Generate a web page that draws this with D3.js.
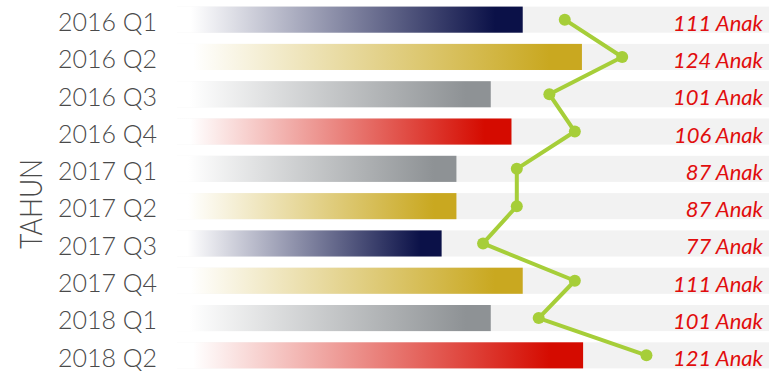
<!DOCTYPE html>
<html>
<head>
<meta charset="utf-8">
<script src="https://cdn.jsdelivr.net/npm/d3@7"></script>
<style>
  body { margin: 0; background: #fff; }
  .axis text { font-family: Lato, sans-serif; font-weight: 300; font-size: 25px; fill: #4a4a4a; }
  .count-label { font-family: Lato, sans-serif; font-style: italic; font-size: 22px; fill: #e10d0d; }
</style>
</head>
<body>
<div id="chart"></div>
<script>
const quarters = ["2016 Q1", "2016 Q2", "2016 Q3", "2016 Q4", "2017 Q1",
                  "2017 Q2", "2017 Q3", "2017 Q4", "2018 Q1", "2018 Q2"];
// bar lengths and line positions (0-100 scale)
const barValues  = [58.4, 68.4, 53.0, 56.5, 47.2, 47.2, 44.7, 58.4, 53.0, 68.6];
const lineValues = [65.5, 75.2, 62.9, 67.2, 57.4, 57.4, 51.7, 67.2, 61.1, 79.3];
const counts     = [111, 124, 101, 106, 87, 87, 77, 111, 101, 121];
const barTones   = ["navy", "gold", "grey", "red", "grey", "gold", "navy", "gold", "grey", "red"];

const toneColors = { navy: "#0b1148", gold: "#c9a820", grey: "#8e9295", red: "#d50b00" };

const width = 769, height = 378;
const margin = { left: 177, right: 0 };

const data = quarters.map((q, i) => ({
  quarter: q, bar: barValues[i], line: lineValues[i], count: counts[i], tone: barTones[i]
}));

const svg = d3.select("#chart").append("svg")
  .attr("width", width)
  .attr("height", height);

const defs = svg.append("defs");
Object.entries(toneColors).forEach(([name, col]) => {
  const g = defs.append("linearGradient")
    .attr("id", "grad-" + name)
    .attr("x1", "0%").attr("x2", "100%")
    .attr("y1", "0%").attr("y2", "0%");
  g.append("stop").attr("offset", "0%").attr("stop-color", "#ffffff");
  g.append("stop").attr("offset", "4%").attr("stop-color", "#ffffff");
  g.append("stop").attr("offset", "92%").attr("stop-color", col);
  g.append("stop").attr("offset", "100%").attr("stop-color", col);
});

const x = d3.scaleLinear().domain([0, 100]).range([margin.left, width - margin.right]);
const y = d3.scaleBand().domain(quarters).range([1, 374]).paddingInner(0.3).paddingOuter(0.15);

// background tracks
svg.selectAll("rect.track")
  .data(data)
  .enter().append("rect")
  .attr("class", "track")
  .attr("x", x(0))
  .attr("y", d => y(d.quarter))
  .attr("width", x(100) - x(0))
  .attr("height", y.bandwidth())
  .attr("fill", "#f2f2f2");

// bars
svg.selectAll("rect.bar")
  .data(data)
  .enter().append("rect")
  .attr("class", "bar")
  .attr("x", x(0))
  .attr("y", d => y(d.quarter))
  .attr("width", d => x(d.bar) - x(0))
  .attr("height", y.bandwidth())
  .attr("fill", d => `url(#grad-${d.tone})`);

// category axis
const axis = svg.append("g")
  .attr("class", "axis")
  .attr("transform", `translate(${x(0)},0)`)
  .call(d3.axisLeft(y).tickSize(0).tickPadding(20));
axis.select(".domain").remove();
axis.selectAll(".tick text").attr("dy", "0.45em");

svg.append("text")
  .attr("transform", `translate(30,${y("2017 Q1") + y.bandwidth() + 22}) rotate(-90)`)
  .attr("text-anchor", "middle")
  .attr("dominant-baseline", "central")
  .attr("font-family", "Lato, sans-serif")
  .attr("font-weight", 300)
  .attr("font-size", 31)
  .attr("textLength", 90)
  .attr("lengthAdjust", "spacingAndGlyphs")
  .attr("fill", "#4a4a4a")
  .text("TAHUN");

// line
const lineColor = "#a6ce39";
const line = d3.line()
  .x(d => x(d.line))
  .y(d => y(d.quarter) + y.bandwidth() / 2);

svg.append("path")
  .datum(data)
  .attr("fill", "none")
  .attr("stroke", lineColor)
  .attr("stroke-width", 4)
  .attr("stroke-linejoin", "round")
  .attr("d", line);

svg.selectAll("circle.dot")
  .data(data)
  .enter().append("circle")
  .attr("class", "dot")
  .attr("cx", d => x(d.line))
  .attr("cy", d => y(d.quarter) + y.bandwidth() / 2)
  .attr("r", 6)
  .attr("fill", lineColor);

// count labels
svg.selectAll("text.count-label")
  .data(data)
  .enter().append("text")
  .attr("class", "count-label")
  .attr("x", width - 6)
  .attr("y", d => y(d.quarter) + y.bandwidth() / 2)
  .attr("dy", "0.5em")
  .attr("text-anchor", "end")
  .text(d => `${d.count} Anak`);
</script>
</body>
</html>
